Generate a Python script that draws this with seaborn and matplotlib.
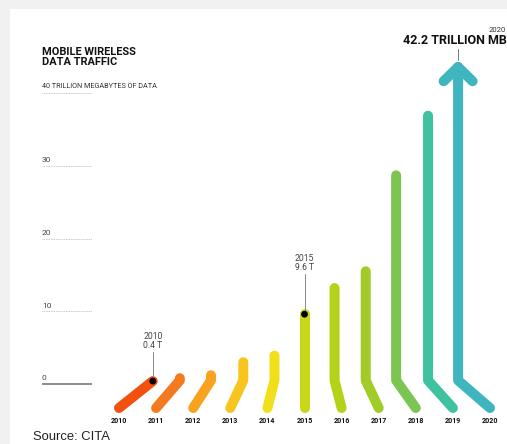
import matplotlib
matplotlib.use("Agg")
import matplotlib.pyplot as plt
import matplotlib.patches as mpatches
import pandas as pd
import seaborn as sns

# ── DATA ───────────────────────────────────────────────────────────────────────
YEARS = [2010, 2011, 2012, 2013, 2014, 2015, 2016, 2017, 2018, 2019, 2020]
TRAFFIC = [0.4, 0.8, 1.2, 3.0, 3.9, 9.6, 13.2, 15.5, 28.7, 36.9, 42.2]  # trillion MB
COLORS = ["#f1500f", "#f47a1f", "#f7a31f", "#f7c51e", "#f1df1c", "#c8d818",
          "#b3d31b", "#a1cb26", "#7dc552", "#3fc2a0", "#3fb5bf"]
Y_TICKS = [0, 10, 20, 30]
SCALE_TOP = 40
TITLE = "MOBILE WIRELESS\nDATA TRAFFIC"
SUBTITLE = "40 TRILLION MEGABYTES OF DATA"
CALLOUTS = {2010: "2010\n0.4 T", 2015: "2015\n9.6 T"}
PEAK_YEAR = "2020"
PEAK_LABEL = "42.2 TRILLION MB"
SOURCE = "Source: CITA"

# ── LAYOUT (pixels of the 507x444 picture) ─────────────────────────────────────
W, H = 507, 444
X0_PX, DX_PX = 119, 37.1      # x pixel of 2010, pixels per year
Y0_PX, DY_PX = 384, 7.27      # y pixel of zero, pixels per trillion MB
TOP_SHIFT = [0.91, 0.64, 0.48, 0.35, 0.19, 0.0, -0.19, -0.35, -0.53, -0.67, -0.86]
BASE_Y, BEND_Y = -3.3, 0.5
CALLOUT_LEN = {2010: 4.0, 2015: 5.5}
STROKE = 7.2


def px_x(px):
    return YEARS[0] + (px - X0_PX) / DX_PX


def px_y(py):
    return (Y0_PX - py) / DY_PX


sns.set_theme(style="white")
plt.rcParams["font.family"] = ["Roboto", "DejaVu Sans"]

fig = plt.figure(figsize=(W / 100, H / 100), dpi=100, facecolor="#f1f1f1")
fig.patches.append(mpatches.Rectangle((10 / W, 0), 1, 1 - 9 / H, transform=fig.transFigure,
                                      facecolor="white", edgecolor="none", zorder=-5))
ax = fig.add_axes([0, 0, 1, 1])
ax.set_facecolor("none")
ax.set_xlim(px_x(0), px_x(W))
ax.set_ylim(px_y(H), px_y(0))
ax.axis("off")

# scale lines and labels
gx0, gx1 = px_x(42), px_x(92)
for v in Y_TICKS + [SCALE_TOP]:
    if v == 0:
        ax.plot([gx0, gx1], [v, v], color="#7a7a7a", lw=1.2, solid_capstyle="butt")
    else:
        ax.plot([gx0, gx1], [v, v], color="#b5b5b5", lw=0.6, ls=(0, (1, 1)))
    if v != SCALE_TOP:
        ax.text(gx0, v + 0.35, str(v), fontsize=6, color="#444444", ha="left", va="bottom")
ax.text(gx0, SCALE_TOP + 0.5, SUBTITLE, fontsize=5.2, color="#333333", ha="left",
        va="bottom")
fig.text(42 / W, 1 - 47 / H, TITLE, fontsize=7.9, fontweight="bold", color="#111111",
         ha="left", va="top", linespacing=1.0)

# strokes: bottom -> bend -> value
rows = []
for yr, val, shift in zip(YEARS, TRAFFIC, TOP_SHIFT):
    xt = yr + shift
    bend = min(BEND_Y, val)
    for x, y in [(yr, BASE_Y), (xt, bend), (xt, val)]:
        rows.append({"year": str(yr), "x": x, "y": y})
df = pd.DataFrame(rows)
palette = {str(y): c for y, c in zip(YEARS, COLORS)}
sns.lineplot(data=df, x="x", y="y", hue="year", units="year", estimator=None, sort=False,
             palette=palette, legend=False, lw=STROKE, solid_capstyle="round",
             solid_joinstyle="round", ax=ax)

# arrow head on the last stroke
xa, va_ = YEARS[-1] + TOP_SHIFT[-1], TRAFFIC[-1]
tip = va_ + 1.4
ax.plot([xa - 0.39, xa, xa + 0.39], [tip - 1.95, tip, tip - 1.95], color=COLORS[-1],
        lw=STROKE, solid_capstyle="round", solid_joinstyle="round")
ax.plot([xa, xa], [va_, tip], color=COLORS[-1], lw=STROKE, solid_capstyle="round")
ax.plot([xa, xa], [tip + 0.9, tip + 2.5], color="#777777", lw=0.7)
ax.text(px_x(W), tip + 2.8, PEAK_LABEL, fontsize=9, fontweight="bold",
        color="#111111", ha="right", va="bottom")
ax.text(px_x(W - 1), tip + 4.7, PEAK_YEAR, fontsize=5.5, color="#333333",
        ha="right", va="bottom")

# call-outs with dots
dots = pd.DataFrame({"x": [y + TOP_SHIFT[YEARS.index(y)] for y in CALLOUTS],
                     "y": [TRAFFIC[YEARS.index(y)] for y in CALLOUTS]})
sns.scatterplot(data=dots, x="x", y="y", color="black", s=24, edgecolor="none",
                zorder=5, ax=ax)
for yr, label in CALLOUTS.items():
    i = YEARS.index(yr)
    x, v = yr + TOP_SHIFT[i], TRAFFIC[i]
    ax.plot([x, x], [v, v + CALLOUT_LEN[yr]], color="#888888", lw=0.7, zorder=4)
    ax.text(x, v + CALLOUT_LEN[yr] + 0.25, label, fontsize=6.2, color="#444444",
            ha="center", va="bottom", linespacing=1.05)

# year labels
for yr in YEARS:
    ax.text(yr, px_y(421), str(yr), fontsize=5.1, fontweight="bold", color="#111111",
            ha="center", va="center")

fig.text(33 / W, 1 - 437 / H, SOURCE, fontsize=9.4, color="#222222", ha="left",
         va="center", family="Liberation Sans")

fig.savefig("out.png", dpi=100, facecolor=fig.get_facecolor())
